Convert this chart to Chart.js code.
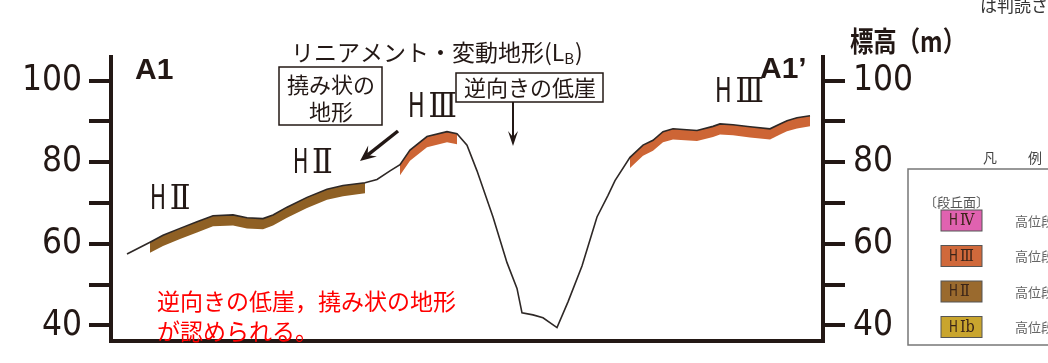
<!DOCTYPE html>
<html lang="ja">
<head>
<meta charset="utf-8">
<title>A1-A1' 地形断面</title>
<script src="https://cdn.jsdelivr.net/npm/chart.js@4/dist/chart.umd.min.js"></script>
<style>
  html, body { margin: 0; padding: 0; background: #fff; }
  #profile { display: block; }
</style>
</head>
<body>
<canvas id="profile" width="1048" height="363"></canvas>
<script>
// Distance along the section (arbitrary units from the left axis)
const distance = [16, 39, 52, 69, 86, 102, 122, 136, 152, 162, 176, 196, 216, 232, 254, 266, 279, 289,
  299, 316, 336, 346, 356, 366, 382, 396, 406, 411, 422, 432, 446, 457, 471, 486, 497, 504,
  519, 532, 542, 552, 562, 586, 602, 609, 622, 639, 659, 669, 676, 686, 699];
// Ground elevation (m)
const elevation = [57.5, 60.4, 62.1, 63.8, 65.4, 66.9, 67.1, 66.4, 66.2, 67.1, 69.0, 71.4, 73.4, 74.3, 75.0, 75.8, 77.9, 79.4,
  83.0, 86.3, 87.5, 87.0, 84.2, 77.9, 66.6, 55.4, 49.1, 43.1, 42.6, 41.9, 39.5, 45.8, 54.6, 66.6, 71.9, 75.5,
  81.2, 84.2, 85.4, 87.5, 88.2, 87.8, 88.8, 89.4, 89.2, 88.7, 88.2, 89.4, 90.2, 90.9, 91.4];

// Terrace surfaces along the profile: [from, to] in distance units
const terraceHII = [[39, 254]];
const terraceHIII = [[289, 346], [519, 699]];
const bandDepth = 2.6; // m, thickness of the coloured band under the ground line

// Legend entries (terrace code = "H" + numeral)
const legendNumerals = ['Ⅳ', 'Ⅲ', 'Ⅱ', 'Ⅰb'];
const legendColors = ['#e062b0', '#d0693b', '#9a6a2e', '#c9a52e'];

const INK = '#231815';
const HII_COLOR = '#8f6024';
const HIII_COLOR = '#cd6535';
const JP = "'Noto Sans CJK JP', sans-serif";
const COND = "'DejaVu Sans Condensed', 'DejaVu Sans', sans-serif";
const NUMERAL = "'DejaVu Serif Condensed', 'DejaVu Serif', serif";

const profilePoints = distance.map((d, i) => ({ x: d, y: elevation[i] }));

// Build a filled band (top = ground, bottom = ground - depth) for a terrace section
const bandDatasets = (ranges, color) => {
  const sets = [];
  ranges.forEach(([from, to]) => {
    const top = profilePoints.filter(p => p.x >= from && p.x <= to);
    sets.push({ data: top, borderColor: 'rgba(0,0,0,0)', borderWidth: 1, pointRadius: 0, fill: false });
    sets.push({
      data: top.map(p => ({ x: p.x, y: p.y - bandDepth })),
      borderColor: 'rgba(0,0,0,0)', borderWidth: 1, pointRadius: 0,
      fill: '-1', backgroundColor: color,
    });
  });
  return sets;
};

// Elevation axis, used on both sides
const elevAxis = (position) => ({
  type: 'linear',
  position,
  min: 36.2,
  max: 105.8,
  afterFit: (s) => { s.width = position === 'left' ? 111 : 100; },
  border: { display: true, width: 4, color: INK },
  grid: { drawOnChartArea: false, drawTicks: true, tickLength: 22, tickWidth: 4, tickColor: INK, lineWidth: 4, color: INK },
  ticks: {
    stepSize: 10, includeBounds: false, autoSkip: false,
    padding: position === 'left' ? 7 : 8,
    color: INK,
    font: { family: COND, weight: 'condensed', size: 35, lineHeight: 0.8 },
    callback: (v) => (v % 20 === 0 ? String(v) : ''),
  },
});

const text = (ctx, str, x, y, font, color, align = 'left', maxWidth) => {
  ctx.font = font;
  ctx.fillStyle = color;
  ctx.textAlign = align;
  ctx.textBaseline = 'middle';
  if (maxWidth) ctx.fillText(str, x, y, maxWidth);
  else ctx.fillText(str, x, y);
};

// "H" plus a roman numeral, squeezed into the given width
const terraceName = (ctx, numeral, x, y, size, w, color) => {
  text(ctx, 'H', x, y, `condensed ${size}px ${COND}`, color, 'left', w * 0.34);
  text(ctx, numeral, x + w * 0.42, y, `condensed ${size}px ${NUMERAL}`, color, 'left', w * 0.58);
};

const arrow = (ctx, x1, y1, x2, y2, lw, hl, hw) => {
  const a = Math.atan2(y2 - y1, x2 - x1);
  const c = Math.cos(a), s = Math.sin(a);
  ctx.strokeStyle = INK;
  ctx.fillStyle = INK;
  ctx.lineWidth = lw;
  ctx.beginPath();
  ctx.moveTo(x1, y1);
  ctx.lineTo(x2 - c * hl * 0.6, y2 - s * hl * 0.6);
  ctx.stroke();
  ctx.beginPath();
  ctx.moveTo(x2, y2);
  ctx.lineTo(x2 - hl * c + hw * s, y2 - hl * s - hw * c);
  ctx.lineTo(x2 - hl * 0.6 * c, y2 - hl * 0.6 * s);
  ctx.lineTo(x2 - hl * c - hw * s, y2 - hl * s + hw * c);
  ctx.closePath();
  ctx.fill();
};

// Labels, boxes, arrows and the partial legend
const annotations = {
  id: 'annotations',
  afterDraw(chart) {
    const ctx = chart.ctx;
    ctx.save();

    // section end names and axis title
    text(ctx, 'A1', 135, 71, `bold 30px 'Liberation Sans', sans-serif`, INK);
    text(ctx, 'A1’', 760, 70, `bold 30px 'Liberation Sans', sans-serif`, INK);
    text(ctx, '標高（m）', 850, 41, `bold 28px ${JP}`, INK, 'left', 116);

    // lineament title with subscript
    const head = 'リニアメント・変動地形(L';
    text(ctx, head, 291, 52, `23px ${JP}`, INK);
    let w = ctx.measureText(head).width;
    text(ctx, 'B', 291 + w, 58, `15px ${JP}`, INK);
    w += ctx.measureText('B').width + 1;
    text(ctx, ')', 291 + w, 52, `23px ${JP}`, INK);

    // boxes
    ctx.lineWidth = 1.5;
    ctx.strokeStyle = INK;
    ctx.fillStyle = '#fff';
    ctx.fillRect(279, 67, 103, 58);
    ctx.strokeRect(279, 67, 103, 58);
    ctx.fillRect(456, 73, 147, 29);
    ctx.strokeRect(456, 73, 147, 29);
    text(ctx, '撓み状の', 331, 85, `22px ${JP}`, INK, 'center');
    text(ctx, '地形', 331, 112, `22px ${JP}`, INK, 'center');
    text(ctx, '逆向きの低崖', 530, 88, `22px ${JP}`, INK, 'center');

    arrow(ctx, 513, 102, 513, 146, 2, 15, 5);
    arrow(ctx, 398, 131, 360, 161, 3.5, 16, 7);

    // terrace names
    terraceName(ctx, 'Ⅱ', 150, 200, 34, 47, INK);
    terraceName(ctx, 'Ⅱ', 293, 164, 34, 45, INK);
    terraceName(ctx, 'Ⅲ', 408, 108, 34, 49, INK);
    terraceName(ctx, 'Ⅲ', 715, 93, 34, 49, INK);

    // red note
    text(ctx, '逆向きの低崖，撓み状の地形', 157, 301, `23px ${JP}`, '#ff0000');
    text(ctx, 'が認められる。', 157, 331, `23px ${JP}`, '#ff0000');

    // partial legend at the right edge
    text(ctx, 'は判読さ', 980, 6, `17px ${JP}`, '#333');
    text(ctx, '凡', 990, 158, `14px ${JP}`, '#444', 'center');
    text(ctx, '例', 1035, 158, `14px ${JP}`, '#444', 'center');
    ctx.lineWidth = 1.5;
    ctx.strokeStyle = '#777';
    ctx.strokeRect(908, 169, 160, 176);
    text(ctx, '〔段丘面〕', 924, 202, `13px ${JP}`, '#555');
    legendNumerals.forEach((num, i) => {
      const y = 210 + i * 35.5;
      ctx.fillStyle = legendColors[i];
      ctx.fillRect(941, y, 41, 21);
      ctx.lineWidth = 1;
      ctx.strokeStyle = '#555';
      ctx.strokeRect(941, y, 41, 21);
      terraceName(ctx, num, 949, y + 11, 16, 26, '#3a2418');
      text(ctx, '高位段丘面', 1015, y + 11, `13px ${JP}`, '#666');
    });

    ctx.restore();
  },
};

new Chart(document.getElementById('profile'), {
  type: 'line',
  plugins: [annotations],
  data: {
    datasets: [
      { data: profilePoints, borderColor: '#2e2826', borderWidth: 1.6, pointRadius: 0, fill: false },
      ...bandDatasets(terraceHII, HII_COLOR),
      ...bandDatasets(terraceHIII, HIII_COLOR),
    ],
  },
  options: {
    responsive: false,
    devicePixelRatio: 1,
    animation: false,
    events: [],
    layout: { padding: { top: 57, right: 125, bottom: 0, left: 0 } },
    plugins: { legend: { display: false }, tooltip: { enabled: false } },
    scales: {
      x: {
        type: 'linear',
        min: 0,
        max: 712,
        afterFit: (s) => { s.height = 16; },
        border: { display: true, width: 4, color: INK },
        grid: { display: false },
        ticks: { display: false },
      },
      y: elevAxis('left'),
      y2: elevAxis('right'),
    },
  },
});
</script>
</body>
</html>
